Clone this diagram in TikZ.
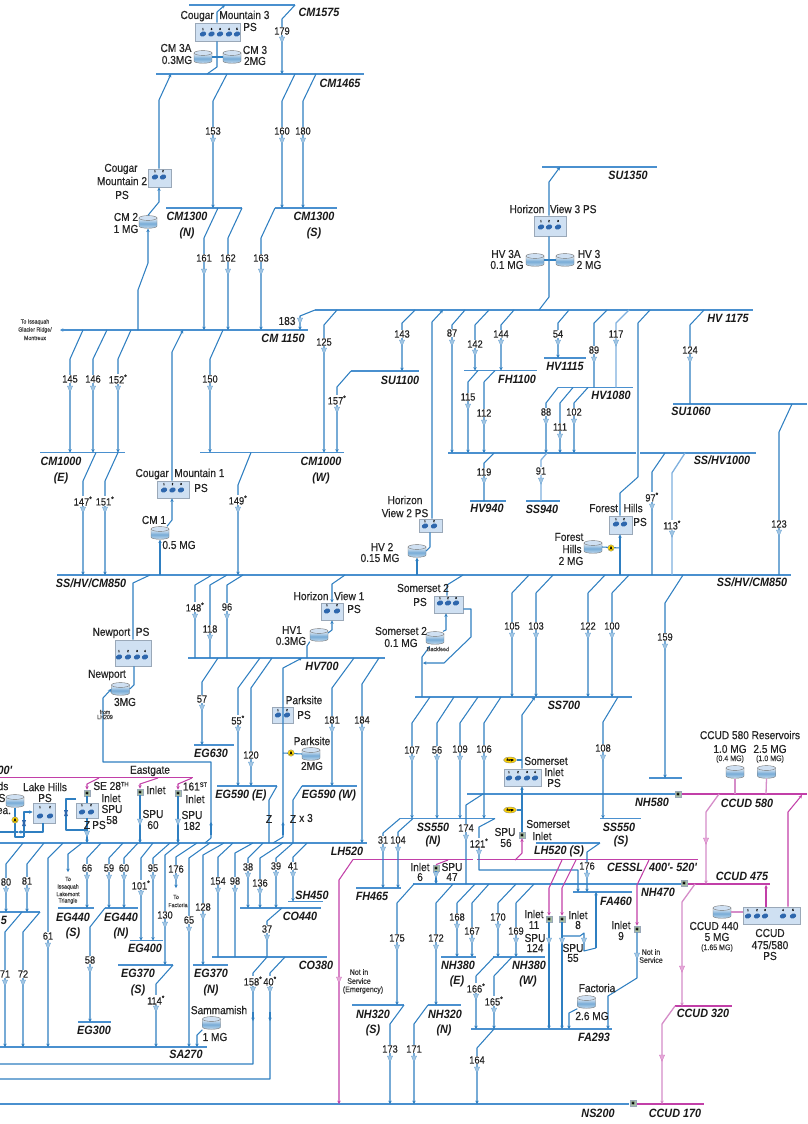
\documentclass[tikz,border=0pt]{standalone}
\usepackage{fontspec}
\usetikzlibrary{arrows.meta,calc,shapes.geometric}
\newfontfamily\labf[FakeStretch=.88,FakeBold=.5]{Liberation Sans}
\newfontfamily\busf[FakeStretch=.9]{Liberation Sans}
\definecolor{pipeb}{HTML}{2F7FC1}
\definecolor{pipel}{HTML}{7FB0DE}
\definecolor{busb}{HTML}{4A90CF}
\definecolor{magp}{HTML}{C23FA8}
\definecolor{magl}{HTML}{D58CC8}
\definecolor{pumpb}{HTML}{2E67AD}
\definecolor{boxb}{HTML}{CFE0F2}
\definecolor{boxg}{HTML}{9AA8B8}
\definecolor{metg}{HTML}{A8BFA8}
\tikzset{
 pipe/.style={line width=1.05pt,draw=pipeb,line join=round},
 pipeh/.style={line width=1.3pt,draw=pipel},
 mag/.style={line width=1.05pt,draw=magp,line join=round},
 magh/.style={line width=1.3pt,draw=magl,line join=round},
 arr/.style={-{Stealth[length=3.4pt,width=3.4pt]}},
 busl/.style={line width=1.3pt,draw=busb},
 mbusl/.style={line width=1.5pt,draw=magp},
 lab/.style={font=\labf\fontsize{10.5}{11}\selectfont,fill=white,inner sep=.5pt,text=black!85},
 tx/.style={font=\labf\fontsize{11.5}{12}\selectfont,inner sep=0pt,text=black!85},
 sm/.style={font=\labf\fontsize{8}{9}\selectfont,inner sep=0pt,text=black!80},
 tin/.style={font=\labf\fontsize{6}{6}\selectfont,inner sep=0pt,text=black!75},
 bl/.style={font=\busf\bfseries\itshape\fontsize{12}{12}\selectfont,inner sep=0pt,text=black!90},
 psb/.style={draw=boxg,line width=.8pt,fill=boxb,inner sep=0pt},
 tanknode/.style={minimum width=18pt,minimum height=13pt,inner sep=0pt},
 meter/.style={draw=boxg,line width=.3pt,fill=metg,minimum size=6.5pt,inner sep=0pt,font=\labf\fontsize{4}{4}\selectfont},
 anode/.style={circle,draw=black!50,line width=.3pt,fill=yellow!75!orange,minimum size=6.5pt,inner sep=0pt,font=\labf\fontsize{4.5}{4.5}\selectfont},
 surge/.style={ellipse,draw=black!50,line width=.3pt,fill=yellow!70!orange,minimum width=13pt,minimum height=6pt,inner sep=0pt,font=\labf\fontsize{3}{3}\selectfont},
}
\newcount\nc
\newcommand\supt[1]{\raisebox{3.5pt}{\fontsize{6.5}{7}\selectfont #1}}
\newcommand\bus[4]{\coordinate (#1) at (#2,#4); \coordinate (#1e) at (#3,#4); \draw[busl] (#1) -- (#1e);}
\newcommand\mbus[4]{\coordinate (#1) at (#2,#4); \coordinate (#1e) at (#3,#4); \draw[mbusl] (#1) -- (#1e);}
\newcommand\valve[3][pipeb]{\fill[draw=#1!75!white,line width=.3pt,fill=#1!45!white,shift={(#2,#3)}] (-2.6,-3) -- (2.6,-3) -- (0,3.2) -- cycle;}
\newcommand\tx[3]{\global\advance\nc by 1 \node[tx] (n\the\nc) at (#1,#2) {#3};}
\newcommand\tins[3]{\global\advance\nc by 1 \node[tin] (n\the\nc) at (#1,#2) {#3};}
\newcommand\tsm[3]{\global\advance\nc by 1 \node[sm] (n\the\nc) at (#1,#2) {#3};}
\newcommand\bl[3]{\global\advance\nc by 1 \node[bl] (n\the\nc) at (#1,#2) {#3};}
% pipe: x on upper bus, upper bus, x of the straight run, y of the kink, lower bus, label, label y, valve y
\newcommand\vp[9][]{\draw[pipe,arr,#1] (#2,0 |- #3) -- (#4,#5) -- (#4,0 |- #6);
 \global\advance\nc by 1 \node[lab] (n\the\nc) at (#4,#8) {#7}; \valve{#4}{#9}}
\newcommand\tank[3]{\node[tanknode] (#1) at (#2,#3) {};
 \begin{scope}[shift={(#2,#3)}]
 \shade[top color=white!85!pipel,bottom color=white!75!pipeb,middle color=pipeb!65!white,draw=black!55,line width=.4pt]
  (-9,-4) -- (-9,4) .. controls (-9,7) and (9,7) .. (9,4) -- (9,-4) -- cycle;
 \fill[draw=black!55,line width=.4pt,fill=boxb] (0,-4) ellipse [x radius=9,y radius=2.4];
 \end{scope}}
\newcommand\psbx[5]{\node[psb,minimum width=#4pt,minimum height=#5pt] (#1) at (#2,#3) {};}
\newcommand\pumpp[2]{\fill[pumpb,shift={(#1,#2)},rotate=20] (0,0) ellipse [x radius=3.3,y radius=2.4];}
\newcommand\pnum[3]{\global\advance\nc by 1 \node[inner sep=0pt,font=\labf\fontsize{3}{3}\selectfont] (n\the\nc) at (#1,#2) {#3};}
\newcommand\meter[3]{\node[meter] (#1) at (#2,#3) {M};}
\begin{document}
\begin{tikzpicture}[x=1pt,y=-1pt]
\useasboundingbox (0,0) rectangle (807,1124);
\clip (0,0) rectangle (807,1124);
\fill[white] (0,0) rectangle (807,1124);
% ---- buses
\bus{cma}{189}{295}{5}
\bus{cmb}{156}{364}{74}
\bus{cmn}{166}{242}{208}
\bus{cms}{275}{337}{208}
\bus{cmc}{70}{308}{330}
\coordinate (toiss) at (60,330);
\draw[busl,arr] (cmc) -- (toiss);
\bus{hvt}{315}{753}{310}
\bus{su13}{542}{657}{167}
\bus{sua}{351}{419}{371}
\bus{cme}{40}{125}{452.5}
\bus{cmw}{200}{344}{452.5}
\bus{ssa}{448}{636}{453}
\bus{ssb}{640}{756}{453}
\bus{fh}{464}{537}{370.5}
\bus{hvf}{544}{586}{358}
\bus{hve}{558}{633}{387.5}
\bus{sub}{673}{807}{404}
\bus{hvn}{470}{506}{501}
\bus{ssn}{526}{560}{501}
\bus{sse}{57}{791}{575}
\bus{hvs}{188}{385}{658}
\bus{sss}{415}{632}{697}
\bus{egs}{194}{234}{745}
\bus{ege}{217}{277}{786}
\bus{egw}{302}{357}{786}
\bus{ssnn}{400}{495}{818.5}
\bus{sssb}{600}{641}{818.5}
\bus{lh}{0}{367}{843}
\bus{lhs}{536}{600}{843}
\bus{fhf}{356}{401}{888}
\bus{nhf}{413}{681}{884}
\bus{fas}{573}{632}{892}
\bus{sho}{288}{323}{901.5}
\bus{cof}{240}{321}{908}
\bus{cot}{212}{327}{957}
\bus{lf}{0}{40}{912}
\bus{egfs}{58}{94}{908}
\bus{egfn}{105}{138}{908}
\bus{egfo}{130}{163}{940.5}
\bus{egts}{118}{173}{965}
\bus{egtn}{193}{228}{965}
\bus{egth}{78}{111}{1022}
\bus{sa}{0}{207}{1047}
\bus{ns}{0}{629}{1104}
\bus{nhts}{352}{404}{1005}
\bus{nhtn}{428}{461}{1005}
\bus{nhe}{441}{476}{957}
\bus{nhw}{493}{545}{957}
\bus{fa}{471}{612}{1029}
\bus{nhbar}{649}{682}{778}
\bus{nhfe}{467}{675}{794}
\mbus{ceg}{0}{193}{777.5}
\mbus{cesa}{353}{473}{859.5}
\mbus{cesb}{477}{698}{859.5}
\mbus{cc5}{682}{807}{794}
\mbus{cc4}{688}{770}{884}
\mbus{cc3}{675}{732}{1006}
\mbus{cc1}{637}{704}{1104}
% ---- stations
\psbx{cm3ps}{217.5}{32}{45}{18}
\psbx{cm2ps}{159.5}{178}{23}{18}
\psbx{cm1ps}{173}{489.5}{32}{17}
\psbx{hv3ps}{550}{226}{32}{20}
\psbx{hv2ps}{430.5}{525.5}{23}{13}
\psbx{fhps}{620.5}{525}{23}{18}
\psbx{s2ps}{448.5}{604.5}{29}{17}
\psbx{npps}{133}{653}{36}{26}
\psbx{hv1ps}{332}{611.5}{22}{17}
\psbx{pkps}{282.5}{715}{21}{16}
\psbx{siips}{522.5}{777.5}{37}{17}
\psbx{ccps}{771.5}{915.5}{57}{17}
\psbx{lhps}{44}{813}{22}{20}
\psbx{separs}{87}{810.5}{22}{15}
\foreach \x in {203,211.5,220,229,237}{\pumpp{\x}{34}}
\foreach \x in {155,163}{\pumpp{\x}{177}}
\foreach \x in {164,172.5,181}{\pumpp{\x}{490}}
\foreach \x in {541,549,558}{\pumpp{\x}{227}}
\foreach \x in {425,434}{\pumpp{\x}{526}}
\foreach \x in {616,624}{\pumpp{\x}{524}}
\foreach \x in {440,448,456}{\pumpp{\x}{603}}
\foreach \x in {119,128,137,145}{\pumpp{\x}{657}}
\foreach \x in {327,337}{\pumpp{\x}{611}}
\foreach \x in {278,287}{\pumpp{\x}{715}}
\foreach \x in {509,518,527,535}{\pumpp{\x}{778}}
\foreach \x in {748,757,765,783,793}{\pumpp{\x}{916}}
\foreach \x in {40,50}{\pumpp{\x}{816}}
\foreach \x in {82,91}{\pumpp{\x}{812}}
\tank{cm3a}{203}{57}
\tank{cm3t}{232}{57}
\tank{cm2t}{148}{222}
\tank{cm1t}{160}{533}
\tank{hv3a}{535}{260}
\tank{hv3t}{565}{260}
\tank{hv2t}{417}{551}
\tank{fht}{593}{547}
\tank{s2t}{435}{638}
\tank{npt}{120.5}{689}
\tank{hv1t}{319}{635}
\tank{pkt}{311}{754}
\tank{samt}{211.5}{1023}
\tank{fat}{586.5}{1002}
\tank{ccr}{735}{772}
\tank{ccs}{766.5}{772}
\tank{ccf}{722}{912}
\tank{lht}{15}{801}
% ---- pipes
\draw[pipe,arr] (217,0 |- cm3ps.north) -- (217,12) -- (225,0 |- cma);
\draw[pipe] (217,0 |- cm3ps.south) -- (217,67) -- (207,0 |- cmb);
\draw[pipe] (cm3a.east) -- (cm3t.west);
\draw[pipe,arr] (549,0 |- hv3ps.north) -- (549,182) -- (560,0 |- su13);
\draw[pipe] (549,0 |- hv3ps.south) -- (549,297) -- (539,0 |- hvt);
\draw[pipe] (hv3a.east) -- (hv3t.west);
\draw[pipe,arr] (159,0 |- cm2ps.north) -- (159,100) -- (171,0 |- cmb);
\draw[pipe,arr] (148,0 |- cm2t.north) -- (159,202) -- (159,0 |- cm2ps.south);
\draw[pipe,arr] (138,0 |- cmc) -- (138,290) -- (148,263) -- (148,0 |- cm2t.south);
\vp{295}{cma}{282}{19}{cmb}{179}{31}{40}
\vp{227}{cmb}{213}{101}{cmn}{153}{131}{141}
\vp{295}{cmb}{282}{101}{cms}{160}{131}{141}
\vp{316}{cmb}{303}{101}{cms}{180}{131}{141}
\vp{218}{cmn}{204}{238}{cmc}{161}{258}{272}
\vp{242}{cmn}{228}{238}{cmc}{162}{258}{272}
\vp{275}{cms}{261}{238}{cmc}{163}{258}{272}
\vp{83}{cmc}{70}{359}{cme}{145}{379}{389}
\vp{107}{cmc}{93}{359}{cme}{146}{379}{389}
\vp{131}{cmc}{118}{359}{cme}{152\textsuperscript{*}}{379}{389}
\vp{223}{cmc}{210}{359}{cmw}{150}{379}{389}
\draw[pipe,arr] (172,0 |- cm1ps.north) -- (172,352) -- (183,0 |- cmc);
\draw[pipe,arr] (167,0 |- cm1t.north) -- (172,520) -- (172,0 |- cm1ps.south);
\draw[pipe,arr] (160,0 |- sse) -- (160,0 |- cm1t.south);
\draw[pipe,arr] (315,0 |- hvt) -- (300,316) -- (300,0 |- cmc); \valve{300}{321}
\vp{337}{hvt}{324}{325}{cmw}{125}{342}{351}
\vp{351}{sua}{337}{387}{cmw}{157\textsuperscript{*}}{400}{410}
\vp{415}{hvt}{402}{323}{sua}{143}{334}{343}
\draw[pipe,arr] (432,0 |- hv2ps.north) -- (432,322) -- (443,0 |- hvt);
\draw[pipe] (430,0 |- hv2ps.south) -- (430,547) -- (hv2t.east);
\draw[pipe,arr] (417,0 |- sse) -- (417,0 |- hv2t.south);
\vp{465}{hvt}{452}{325}{ssa}{87}{333}{343}
\vp{489}{hvt}{475}{325}{fh}{142}{344}{353}
\vp{514}{hvt}{501}{325}{fh}{144}{334}{343}
\vp{478}{fh}{468}{382}{ssa}{115}{397}{407}
\vp{495}{fh}{484}{382}{ssa}{112}{413}{423}
\vp{569}{hvt}{558}{323}{hvf}{54}{334}{343}
\draw[pipe] (607,0 |- hvt) -- (594,323) -- (594,0 |- hve); \node[lab] (l89) at (594,350) {89}; \valve{594}{360}
\draw[pipeh] (629,0 |- hvt) -- (616,323) -- (616,0 |- hve); \node[lab] (l117) at (616,334) {117}; \valve{616}{343}
\vp{558}{hve}{546}{403}{ssa}{88}{412}{422}
\vp{573}{hve}{560}{403}{ssa}{111}{427}{437}
\vp{588}{hve}{574}{403}{ssa}{102}{412}{422}
\draw[pipe] (650,0 |- hvt) -- (638,323) -- (638,477) -- (620,493) -- (620,0 |- fhps.north);
\draw[pipe] (704,0 |- hvt) -- (690,325) -- (690,0 |- sub); \node[lab] (l124) at (690,350) {124}; \valve{690}{360}
\draw[pipe] (792,0 |- sub) -- (779,432) -- (779,0 |- sse); \node[lab] (l123) at (779,524) {123}; \valve{779}{533}
\draw[pipe] (494,0 |- ssa) -- (484,463) -- (484,0 |- hvn); \node[lab] (l119) at (484,472) {119}; \valve{484}{481}
\draw[pipeh] (547,0 |- ssa) -- (541,460) -- (541,0 |- ssn); \node[lab] (l91) at (541,471) {91}; \valve{541}{481}
\draw[pipe] (665,0 |- ssb) -- (652,472) -- (652,0 |- sse); \node[lab] (l97) at (652,497) {97\textsuperscript{*}}; \valve{652}{507}
\draw[pipeh] (685,0 |- ssb) -- (672,473) -- (672,0 |- sse); \node[lab] (l113) at (672,525) {113\textsuperscript{*}}; \valve{672}{534}
\draw[pipe,arr] (620,0 |- sse) -- (620,0 |- fhps.south);
\draw[pipe] (fht.east) -- (620,548);
\vp{529}{sse}{512}{593}{sss}{105}{626}{636}
\vp{553}{sse}{536}{593}{sss}{103}{626}{636}
\vp{605}{sse}{588}{593}{sss}{122}{626}{636}
\vp{629}{sse}{612}{593}{sss}{100}{626}{636}
\vp{683}{sse}{665}{603}{nhbar}{159}{637}{647}
\draw[pipe] (463,0 |- sse) -- (447,585) -- (447,0 |- s2ps.north);
\draw[pipe,arr] (443,0 |- s2t.north) -- (446,630) -- (446,0 |- s2ps.south);
\draw[pipe,arr] (s2ps.east |- 0,609) -- (471,609) -- (471,637) -- (444,663) -- (423,663);
\draw[pipe,arr] (422,0 |- sss) -- (422,657) -- (430,646);
\vp{430}{sss}{412}{723}{ssnn}{107}{750}{759}
\vp{454}{sss}{437}{723}{ssnn}{56}{750}{759}
\vp{478}{sss}{460}{723}{ssnn}{109}{749}{759}
\vp{501}{sss}{484}{723}{ssnn}{106}{749}{759}
\draw[pipe,arr] (522,0 |- siips.north) -- (522,715) -- (535,0 |- sss);
\draw[pipe,arr] (522,832) -- (522,0 |- siips.south);
\vp{618}{sss}{603}{722}{sssb}{108}{748}{758}
\vp{400}{ssnn}{383}{833}{fhf}{31}{840}{850}
\vp{413}{ssnn}{398}{832}{fhf}{104}{840}{850}
\vp{379}{hvs}{362}{684}{lh}{184}{720}{730}
\vp{354}{hvs}{332}{688}{egw}{181}{720}{730}
\vp{260}{hvs}{238}{688}{ege}{55\textsuperscript{*}}{720}{730}
\vp{272}{hvs}{251}{688}{ege}{120}{755}{765}
\vp{218}{hvs}{202}{682}{egs}{57}{699}{708}
\draw[pipe] (212,0 |- sse) -- (195,585) -- (195,0 |- hvs); \node[lab] (l148) at (195,607) {148\textsuperscript{*}}; \valve{195}{617}
\draw[pipe] (227,0 |- sse) -- (210,585) -- (210,0 |- hvs); \node[lab] (l118) at (210,629) {118}; \valve{210}{638}
\draw[pipe] (243,0 |- sse) -- (227,585) -- (227,0 |- hvs); \node[lab] (l96) at (227,607) {96}; \valve{227}{617}
\vp{251}{cmw}{238}{485}{sse}{149\textsuperscript{*}}{500}{510}
\vp{96}{cme}{83}{481}{sse}{147\textsuperscript{*}}{501}{510}
\vp{118}{cme}{105}{481}{sse}{151\textsuperscript{*}}{501}{510}
\draw[pipe] (150,0 |- sse) -- (133,583) -- (133,0 |- npps.north);
\draw[pipe] (134,0 |- npps.south) -- (134,685) -- (npt.east);
\draw[pipe,arr] (205,0 |- lh) -- (211,838) -- (211,762) -- (103,762) -- (103,698) -- (npt.west);
\draw[pipe,arr] (211,835) -- (211,822);
\draw[pipe,arr] (345,0 |- sse) -- (332,584) -- (332,0 |- hv1ps.north);
\draw[pipe,arr] (328,633) -- (332,630) -- (332,0 |- hv1ps.south);
\draw[pipe] (307,0 |- hvs) -- (307,646) -- (hv1t.south west);
\draw[pipe,arr] (273,0 |- lh) -- (283,837) -- (283,668) -- (302,0 |- hvs);
\draw[pipe,arr] (283,835) -- (283,822);
\draw[pipe] (pkt.west) -- (283,753);
\draw[pipe] (egw) -- (293,800) -- (293,0 |- lh);
\draw[pipe] (egee) -- (269,800) -- (269,0 |- lh);
% below LH520
\vp{23}{lh}{6}{864}{lf}{80}{882}{891}
\vp{44}{lh}{27}{864}{lf}{81}{881}{891}
\vp{22}{lf}{5}{932}{sa}{71}{974}{983}
\vp{40}{lf}{23}{932}{sa}{72}{974}{983}
\vp{63}{lh}{48}{858}{sa}{61}{936}{946}
\coordinate (toisl) at (68,872);
\draw[pipe,arr] (82,0 |- lh) -- (68,854) -- (toisl);
\vp{101}{lh}{87}{858}{egfs}{66}{868}{878}
\vp{105}{egfn}{90}{927}{egth}{58}{960}{970}
\vp{123}{lh}{109}{858}{egfn}{59}{868}{878}
\vp{138}{lh}{124}{858}{egfn}{60}{868}{878}
\vp{153}{lh}{141}{858}{egfo}{101\textsuperscript{*}}{885}{894}
\vp{170}{lh}{153}{858}{egfo}{95}{868}{878}
\vp{180}{lh}{165}{855}{egts}{130}{915}{925}
\coordinate (tofac) at (176,888);
\draw[pipe,arr] (197,0 |- lh) -- (176,857) -- (tofac); \node[lab] (l176a) at (176,869) {176}; \valve{176}{878}
\vp{210}{lh}{189}{858}{sa}{65}{920}{930}
\vp{224}{lh}{203}{855}{egts}{128}{907}{917}
\vp{173}{egts}{156}{984}{sa}{114\textsuperscript{*}}{1000}{1009}
\draw[pipe] (233,0 |- lh) -- (218,857) -- (218,0 |- cot); \node[lab] (l154) at (218,881) {154}; \valve{218}{891}
\draw[pipe] (253,0 |- lh) -- (235,853) -- (235,0 |- cot); \node[lab] (l98) at (235,881) {98}; \valve{235}{891}
\vp{263}{lh}{248}{858}{cof}{38}{867}{876}
\vp{283}{lh}{260}{858}{cof}{136}{883}{892}
\vp{293}{lh}{276}{858}{cof}{39}{866}{875}
\vp{307}{lh}{293}{857}{sho}{41}{866}{875}
\draw[pipe] (282,0 |- cof) -- (267,921) -- (267,0 |- cot); \node[lab] (l37) at (267,929) {37}; \valve{267}{938}
\coordinate (ws158) at (0,1064);
\coordinate (ws40) at (0,1079);
\draw[pipe] (267,0 |- cot) -- (253,973) -- (253,1064) -- (ws158); \node[lab] (l158) at (253,981) {158\textsuperscript{*}}; \valve{253}{990}
\draw[pipe] (285,0 |- cot) -- (270,973) -- (270,1079) -- (ws40); \node[lab] (l40) at (270,981) {40\textsuperscript{*}}; \valve{270}{990}
\draw[pipe,arr] (253,1012) -- (253,1021);
\draw[pipe,arr] (270,1012) -- (270,1021);
\draw[pipe,arr] (samt.south west) -- (197,1035) -- (197,0 |- sa);
% NH470 and lower
\vp{414}{nhf}{397}{903}{nhts}{175}{938}{948}
\vp{453}{nhf}{436}{903}{nhtn}{172}{938}{948}
\vp{404}{nhts}{390}{1024}{ns}{173}{1049}{1059}
\vp{428}{nhtn}{414}{1024}{ns}{171}{1049}{1059}
\vp{475}{nhf}{457}{903}{nhe}{168}{917}{927}
\vp{489}{nhf}{472}{903}{nhe}{167}{931}{941}
\vp{516}{nhf}{498}{903}{nhw}{170}{917}{927}
\vp{534}{nhf}{516}{903}{nhw}{169}{931}{941}
\vp{494}{nhw}{476}{976}{fa}{166\textsuperscript{*}}{988}{997}
\vp{512}{nhw}{494}{976}{fa}{165\textsuperscript{*}}{1001}{1011}
\vp{494}{fa}{477}{1048}{ns}{164}{1060}{1070}
\draw[pipe] (483,0 |- nhfe) -- (466,805) -- (466,0 |- nhf); \node[lab] (l174) at (466,828) {174}; \valve{466}{838}
\draw[pipe,arr] (495,0 |- ssnn) -- (479,827) -- (479,870) -- (578,870) -- (578,0 |- fas); \node[lab] (l121) at (479,843) {121\textsuperscript{*}}; \valve{479}{853}
\draw[pipe,arr] (lhse) -- (587,852) -- (587,0 |- fas); \node[lab] (l176b) at (587,866) {176}; \valve{587}{876}
% meters
\meter{mse}{87}{793}
\meter{min}{140}{792}
\meter{mst}{178}{793}
\meter{mss}{522}{835}
\meter{mis}{436}{868}
\meter{mel}{549}{919}
\meter{mei}{562}{919}
\meter{mni}{637}{929}
\meter{mnf}{684}{883}
\meter{mns}{633}{1103}
\draw[pipe,arr] (mis.south) -- (436,0 |- nhf); \valve{436}{875}
\draw[pipe,arr] (mel.south) -- (549,0 |- fa); \valve{549}{941}
\draw[pipe,arr] (mei.south) -- (562,0 |- fa); \valve{562}{941}
\draw[pipe] (562,936) -- (580,936) -- (584,933) -- (584,951) -- (596,948);
\draw[pipe,arr] (596,948) -- (596,0 |- fas);
\valve{584}{941}
\draw[pipe,arr] (mni.south) -- (637,978) -- (608,996) -- (608,0 |- fa); \valve{637}{956}
\draw[pipe,arr] (fat.south west) -- (569,1013) -- (569,0 |- fa);
\draw[pipe,arr] (min.south) -- (140,0 |- lh); \valve{140}{822}
\draw[pipe,arr] (mst.south) -- (178,0 |- lh); \valve{178}{822}
\draw[pipe] (mse.south) -- (separs.north);
\draw[pipe] (separs.west |- 0,799) -- (66,799) -- (66,830) -- (87,830);
\draw[pipe] (separs.south) -- (87,837);
\draw[pipe,arr] (87,837) -- (87,0 |- lh); \valve{87}{834}
\fill[pumpb] (64,810) -- (68,810) -- (66,816) -- cycle;
\fill[pumpb] (64,816) -- (68,816) -- (66,810) -- cycle;
% Lake Hills piping
\draw[pipe] (lht.south) -- (15,837) -- (24,837);
\draw[pipe,arr] (24,837) -- (24,812) -- (lhps.west |- 0,812);
\draw[pipe,arr] (43,0 |- lhps.south) -- (43,832) -- (18,832);
\draw[pipe] (18,832) -- (0,832);
\fill[pumpb] (22,820) -- (26,820) -- (24,826) -- cycle;
\fill[pumpb] (22,826) -- (26,826) -- (24,820) -- cycle;
\node[anode] (alh) at (15,820) {A};
\node[anode] (afh) at (611,548) {A};
\node[anode] (apk) at (291,753) {A};
% magenta
\draw[mag,arr] (99,778) -- (87,784) -- (mse.north);
\draw[mag,arr] (158,778) -- (140,784) -- (min.north);
\draw[mag,arr] (192,778) -- (178,784) -- (mst.north);
\draw[mag] (448,860) -- (mis.north);
\draw[mag,arr] (515,860) -- (522,853) -- (mss.south);
\draw[mag,arr] (562,860) -- (549,888) -- (mel.north);
\draw[mag,arr] (576,860) -- (562,888) -- (mei.north);
\draw[mag,arr] (649,860) -- (637,885) -- (mni.north);
\draw[mag,arr] (353,0 |- cesa) -- (339,880) -- (339,0 |- ns);
\valve[magp]{339}{980}
\draw[magh,arr] (719,794) -- (706,812) -- (706,884); \valve[magp]{706}{841}
\draw[magh,arr] (695,884) -- (682,902) -- (682,1006); \valve[magp]{682}{969}
\draw[magh,arr] (675,1006) -- (662,1024) -- (662,1104); \valve[magp]{662}{1058}
\draw[magh] (ccr.south) -- (735,794);
\draw[magh] (ccs.south) -- (766,794);
\draw[magh] (ccf.east) -- (ccps.west |- 0,912);
\draw[mag,arr] (766,0 |- ccps.north) -- (766,885);
\draw[mag,arr] (788,0 |- ccps.north) -- (788,812) -- (802,795);
\meter{mnh}{678}{794}
% surge ovals
\node[surge] (sg1) at (510,760) {Surge};
\node[surge] (sg2) at (510,810) {Surge};
\draw[pipe] (sg1.east) -- (522,760);
\draw[pipe] (sg2.east) -- (522,810);
% ---- text
\bl{319}{12}{CM1575}
\bl{340}{83}{CM1465}
\bl{187}{216}{CM1300}
\bl{187}{233}{(N)}
\bl{314}{216}{CM1300}
\bl{314}{233}{(S)}
\bl{283}{338}{CM 1150}
\bl{61}{461}{CM1000}
\bl{61}{478}{(E)}
\bl{321}{461}{CM1000}
\bl{321}{478}{(W)}
\bl{628}{175}{SU1350}
\bl{728}{318}{HV 1175}
\bl{400}{380}{SU1100}
\bl{517}{379}{FH1100}
\bl{565}{366}{HV1115}
\bl{611}{395}{HV1080}
\bl{691}{411}{SU1060}
\bl{722}{460}{SS/HV1000}
\bl{487}{508}{HV940}
\bl{542}{509}{SS940}
\bl{752}{582}{SS/HV/CM850}
\bl{91}{583}{SS/HV/CM850}
\bl{322}{666}{HV700}
\bl{564}{705}{SS700}
\bl{211}{753}{EG630}
\bl{241}{795}{EG590 (E)}
\bl{329}{795}{EG590 (W)}
\bl{347}{851}{LH520}
\bl{433}{827}{SS550}
\bl{433}{841}{(N)}
\bl{619}{827}{SS550}
\bl{621}{841}{(S)}
\bl{559}{851}{LH520 (S)}
\bl{372}{896}{FH465}
\bl{625}{867}{CESSL}
\bl{673}{867}{400'- 520'}
\bl{658}{892}{NH470}
\bl{616}{901}{FA460}
\bl{652}{802}{NH580}
\bl{747}{803}{CCUD 580}
\bl{742}{876}{CCUD 475}
\bl{703}{1013}{CCUD 320}
\bl{675}{1113}{CCUD 170}
\bl{598}{1113}{NS200}
\bl{594}{1037}{FA293}
\bl{373}{1014}{NH320}
\bl{373}{1030}{(S)}
\bl{445}{1014}{NH320}
\bl{444}{1030}{(N)}
\bl{458}{965}{NH380}
\bl{457}{981}{(E)}
\bl{529}{965}{NH380}
\bl{528}{981}{(W)}
\bl{312}{895}{SH450}
\bl{300}{916}{CO440}
\bl{316}{965}{CO380}
\bl{4}{920}{5}
\bl{73}{917}{EG440}
\bl{73}{933}{(S)}
\bl{121}{917}{EG440}
\bl{121}{933}{(N)}
\bl{145}{948}{EG400}
\bl{138}{973}{EG370}
\bl{138}{990}{(S)}
\bl{211}{973}{EG370}
\bl{211}{990}{(N)}
\bl{94}{1030}{EG300}
\bl{186}{1054}{SA270}
\bl{5}{770}{00'}
\tx{287}{321}{183}
\tx{225}{16}{Cougar\ \ Mountain 3}
\tx{250}{27}{PS}
\tx{176}{48}{CM 3A}
\tx{177}{60}{0.3MG}
\tx{255}{50}{CM 3}
\tx{255}{61}{2MG}
\tx{121}{169}{Cougar}
\tx{122}{181}{Mountain 2}
\tx{122}{195}{PS}
\tx{126}{217}{CM 2}
\tx{126}{229}{1 MG}
\tx{180}{474}{Cougar\ \ Mountain 1}
\tx{201}{488}{PS}
\tx{154}{520}{CM 1}
\tx{179}{545}{0.5 MG}
\tx{553}{209}{Horizon\ \ View 3 PS}
\tx{506}{254}{HV 3A}
\tx{507}{265}{0.1 MG}
\tx{589}{254}{HV 3}
\tx{589}{265}{2 MG}
\tx{405}{500}{Horizon}
\tx{405}{513}{View 2 PS}
\tx{382}{547}{HV 2}
\tx{380}{558}{0.15 MG}
\tx{616}{508}{Forest\ \ Hills}
\tx{640}{522}{PS}
\tx{569}{537}{Forest}
\tx{572}{549}{Hills}
\tx{571}{561}{2 MG}
\tx{423}{588}{Somerset 2}
\tx{420}{602}{PS}
\tx{401}{631}{Somerset 2}
\tx{401}{643}{0.1 MG}
\tins{438}{649}{Backfeed}
\tx{121}{633}{Newport\ \ PS}
\tx{107}{675}{Newport}
\tx{125}{702}{3MG}
\tins{105}{712}{from}
\tins{105}{717}{LH209}
\tx{329}{596}{Horizon\ \ View 1}
\tx{354}{609}{PS}
\tx{292}{630}{HV1}
\tx{291}{641}{0.3MG}
\tx{304}{700}{Parksite}
\tx{304}{715}{PS}
\tx{312}{741}{Parksite}
\tx{312}{766}{2MG}
\tx{269}{819}{Z}
\tx{293}{819}{Z}
\tx{306}{818}{x 3}
\tx{150}{771}{Eastgate}
\tx{3}{786}{ds}
\tx{2}{798}{S}
\tx{4}{811}{ea.}
\tx{45}{787}{Lake Hills}
\tx{45}{798}{PS}
\tx{111}{786}{SE 28\supt{TH}}
\tx{111}{798}{Inlet}
\tx{112}{809}{SPU}
\tx{112}{820}{58}
\tx{87}{825}{Z}
\tx{99}{825}{PS}
\tx{156}{790}{Inlet}
\tx{153}{814}{SPU}
\tx{153}{825}{60}
\tx{195}{786.5}{161\supt{ST}}
\tx{195}{799}{Inlet}
\tx{192}{815}{SPU}
\tx{192}{826}{182}
\tx{546}{761}{Somerset}
\tx{554}{772}{Inlet}
\tx{554}{783}{PS}
\tx{548}{824}{Somerset}
\tx{542}{836}{Inlet}
\tx{505}{832}{SPU}
\tx{506}{843}{56}
\tx{420}{867}{Inlet}
\tx{420}{877}{6}
\tx{452}{867}{SPU}
\tx{452}{877}{47}
\tx{534}{914}{Inlet}
\tx{534}{925}{11}
\tx{535}{938}{SPU}
\tx{535}{948}{124}
\tx{578}{915}{Inlet}
\tx{578}{925}{8}
\tx{573}{948}{SPU}
\tx{573}{958}{55}
\tx{621}{925}{Inlet}
\tx{621}{936}{9}
\tsm{651}{952}{Not in}
\tsm{651}{960}{Service}
\tsm{359}{972}{Not in}
\tsm{359}{981}{Service}
\tsm{363}{990}{(Emergency)}
\tx{597}{988}{Factoria}
\tx{592}{1016}{2.6 MG}
\tx{219}{1010}{Sammamish}
\tx{215}{1037}{1 MG}
\tins{35}{322}{To Issaquah}
\tins{35}{330}{Glacier Ridge/}
\tins{35}{338}{Montreux}
\tins{68}{879}{To}
\tins{68}{887}{Issaquah}
\tins{68}{894}{Lakemont}
\tins{68}{901}{Triangle}
\tins{176}{897}{To}
\tins{178}{905}{Factoria}
\tx{750}{735}{CCUD 580 Reservoirs}
\tx{730}{749}{1.0 MG}
\tsm{730}{759}{(0.4 MG)}
\tx{770}{749}{2.5 MG}
\tsm{770}{759}{(1.0 MG)}
\tx{714}{926}{CCUD 440}
\tx{717}{937}{5 MG}
\tsm{717}{948}{(1.65 MG)}
\tx{770}{933}{CCUD}
\tx{770}{945}{475/580}
\tx{770}{956}{PS}
% tiny pump numbers
\pnum{203}{29}{1}\pnum{211.5}{29}{3}\pnum{220}{29}{3}\pnum{229}{29}{4}\pnum{237}{29}{5}
\pnum{155}{171}{1}\pnum{163}{171}{2}
\pnum{164}{484}{1}\pnum{172.5}{484}{2}\pnum{181}{484}{3}
\pnum{541}{221}{1}\pnum{549}{221}{2}\pnum{558}{221}{3}
\pnum{425}{521}{1}\pnum{434}{521}{2}
\pnum{616}{519}{1}\pnum{624}{519}{2}
\pnum{440}{598}{1}\pnum{448}{598}{2}\pnum{456}{598}{3}
\pnum{119}{651}{1}\pnum{128}{651}{2}\pnum{137}{651}{3}\pnum{145}{651}{4}
\pnum{327}{605}{1}\pnum{337}{605}{2}
\pnum{278}{710}{1}\pnum{287}{710}{2}
\pnum{509}{772}{1}\pnum{518}{772}{2}\pnum{527}{772}{3}\pnum{535}{772}{4}
\pnum{748}{910}{1}\pnum{757}{910}{2}\pnum{765}{910}{3}\pnum{783}{910}{4}\pnum{793}{910}{5}
\pnum{40}{807}{1}\pnum{50}{807}{2}
\pnum{82}{805}{1}\pnum{91}{805}{2}
\end{tikzpicture}
\end{document}
